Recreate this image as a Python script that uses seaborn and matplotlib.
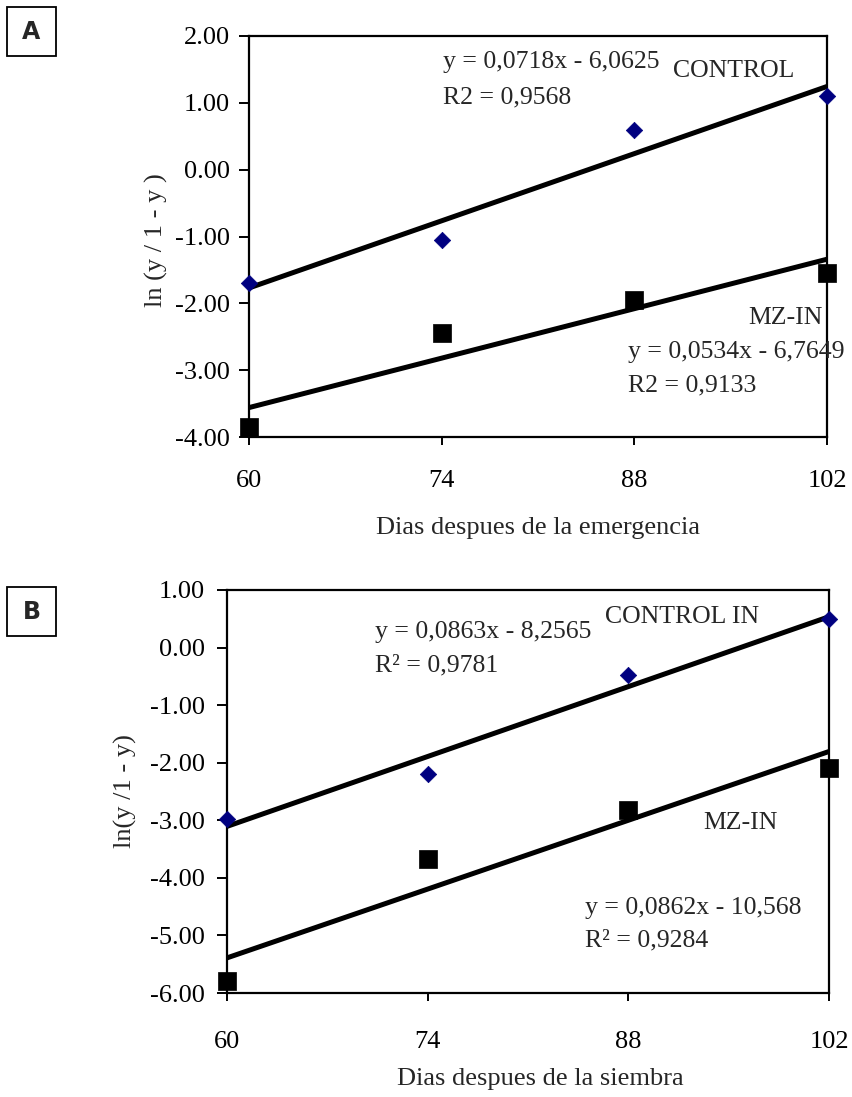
import matplotlib
matplotlib.use("Agg")
import matplotlib.pyplot as plt
import seaborn as sns
import pandas as pd
from matplotlib.patches import Rectangle

# ---- data ----
days = [60, 74, 88, 102]
a_control = [-1.70, -1.05, 0.60, 1.10]
a_mz = [-3.85, -2.45, -1.95, -1.55]
b_control = [-2.97, -2.20, -0.47, 0.50]
b_mz = [-5.80, -3.67, -2.82, -2.10]
x_ticks = [60, 74, 88, 102]
a_yticks = [2, 1, 0, -1, -2, -3, -4]
b_yticks = [1, 0, -1, -2, -3, -4, -5, -6]

sns.set_style("white")
plt.rcParams['font.family'] = ['Liberation Serif', 'DejaVu Serif']
plt.rcParams['axes.unicode_minus'] = False

W, H = 853, 1097
fig = plt.figure(figsize=(W / 100, H / 100), dpi=100)


def ax_px(l, t, r, b):
    return fig.add_axes([l / W, 1 - b / H, (r - l) / W, (b - t) / H])


def panel(ax, ctrl, mz, yticks, ylim, xlabel, ylabel, ylab_xy, xlab_xy, xpad, ypad):
    df = pd.DataFrame({"dias": days, "ctrl": ctrl, "mz": mz})
    sns.regplot(data=df, x="dias", y="ctrl", ax=ax, scatter=False, ci=None,
                truncate=True, line_kws=dict(color="black", lw=3.6, solid_capstyle="butt"))
    sns.regplot(data=df, x="dias", y="mz", ax=ax, scatter=False, ci=None,
                truncate=True, line_kws=dict(color="black", lw=3.6, solid_capstyle="butt"))
    sns.scatterplot(data=df, x="dias", y="ctrl", ax=ax, marker="D", s=70,
                    color="#000080", edgecolor="#000080", linewidth=0.5,
                    clip_on=False, zorder=5)
    sns.scatterplot(data=df, x="dias", y="mz", ax=ax, marker="s", s=150,
                    color="black", edgecolor="black", linewidth=0.5,
                    clip_on=False, zorder=5)
    ax.set_xlim(60, 102)
    ax.set_ylim(*ylim)
    ax.set_xticks(x_ticks)
    ax.set_xticklabels([str(v) for v in x_ticks])
    ax.set_yticks(yticks)
    ax.set_yticklabels([f"{v:.2f}" for v in yticks])
    for s in ax.spines.values():
        s.set_color("black")
        s.set_linewidth(1.6)
    ax.tick_params(axis="x", direction="out", length=6, width=1.4, pad=xpad,
                   labelsize=19, bottom=True, colors="black")
    ax.tick_params(axis="y", direction="out", length=7, width=1.4, pad=ypad,
                   labelsize=19, left=True, colors="black")
    ax.set_xlabel(xlabel, fontsize=19)
    ax.set_ylabel(ylabel, fontsize=19)
    ax.yaxis.set_label_coords(*ylab_xy)
    ax.xaxis.set_label_coords(*xlab_xy)


# Panel A
axA = ax_px(249, 36, 827, 437)
panel(axA, a_control, a_mz, a_yticks, (-4, 2), "Dias despues de la emergencia",
      "ln (y / 1 - y )", (-0.14, 0.49), (0.5, -0.2), 18, 7)

# Panel B
axB = ax_px(227, 590, 829, 993)
panel(axB, b_control, b_mz, b_yticks, (-6, 1), "Dias despues de la siembra",
      "ln(y /1 - y)", (-0.15, 0.50), (0.52, -0.186), 21, 9)


def ftext(x, y, s, **kw):
    fig.text(x / W, 1 - y / H, s, fontsize=kw.pop("fontsize", 18.5), va="center", ha="left", **kw)


# Annotations panel A
ftext(443, 62, "y = 0,0718x - 6,0625")
ftext(443, 97, "R2 = 0,9568")
ftext(673, 71, "CONTROL")
ftext(748, 318, "MZ-IN")
ftext(628, 352, "y = 0,0534x - 6,7649")
ftext(628, 385, "R2 = 0,9133")

# Annotations panel B
ftext(375, 632, "y = 0,0863x - 8,2565")
ftext(375, 665, "R² = 0,9781")
ftext(605, 617, "CONTROL IN")
ftext(703, 823, "MZ-IN")
ftext(585, 908, "y = 0,0862x - 10,568")
ftext(585, 940, "R² = 0,9284")

# Panel letter boxes
for lbl, (l, t) in {"A": (7, 7), "B": (7, 587)}.items():
    fig.patches.append(Rectangle((l / W, 1 - (t + 49) / H), 49 / W, 49 / H,
                                 transform=fig.transFigure, fill=False,
                                 edgecolor="black", linewidth=1.3))
    fig.text((l + 24.5) / W, 1 - (t + 25) / H, lbl, ha="center", va="center",
             fontsize=17, fontweight="bold", family="DejaVu Sans")

fig.savefig("out.png", dpi=100, facecolor="white")
